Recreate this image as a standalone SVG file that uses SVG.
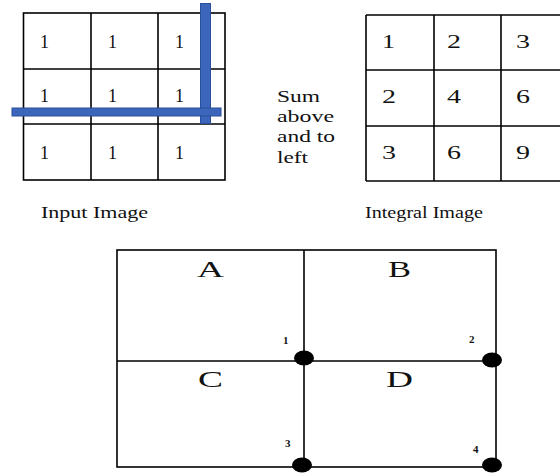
<svg xmlns="http://www.w3.org/2000/svg" width="560" height="474" viewBox="0 0 560 474">
<style>
.grid{fill:none;stroke:#000;stroke-width:1.6}
.t{font-family:"Liberation Serif","Times New Roman",serif;fill:#111}
.d{font-size:19px}
.lab{font-size:17px}
.big{font-size:24px}
.sm{font-size:11px;font-weight:bold}
.bar{fill:#3b66bb;stroke:#2a4f9a;stroke-width:1}
.dot{fill:#000}
</style>
<rect width="560" height="474" fill="#fff"/>
<g id="input-image">
<g class="grid">
<rect x="23.5" y="13" width="201.5" height="167"/>
<line x1="91" y1="13" x2="91" y2="180"/>
<line x1="158" y1="13" x2="158" y2="180"/>
<line x1="23.5" y1="69" x2="225" y2="69"/>
<line x1="23.5" y1="124" x2="225" y2="124"/>
</g>
<g class="t d">
<text x="40" y="48" textLength="9" lengthAdjust="spacingAndGlyphs">1</text>
<text x="108" y="48" textLength="9" lengthAdjust="spacingAndGlyphs">1</text>
<text x="175" y="48" textLength="9" lengthAdjust="spacingAndGlyphs">1</text>
<text x="40" y="102" textLength="9" lengthAdjust="spacingAndGlyphs">1</text>
<text x="108" y="102" textLength="9" lengthAdjust="spacingAndGlyphs">1</text>
<text x="175" y="102" textLength="9" lengthAdjust="spacingAndGlyphs">1</text>
<text x="40" y="159" textLength="9" lengthAdjust="spacingAndGlyphs">1</text>
<text x="108" y="159" textLength="9" lengthAdjust="spacingAndGlyphs">1</text>
<text x="175" y="159" textLength="9" lengthAdjust="spacingAndGlyphs">1</text>
</g>
<rect class="bar" x="200.5" y="3.5" width="10" height="120"/>
<rect class="bar" x="12" y="108" width="209" height="8"/>
<text class="t lab" x="41" y="218" textLength="107" lengthAdjust="spacingAndGlyphs">Input Image</text>
</g>
<g id="sum-label" class="t" style="font-size:16px">
<text x="277" y="102" textLength="43" lengthAdjust="spacingAndGlyphs">Sum</text>
<text x="277" y="122" textLength="57" lengthAdjust="spacingAndGlyphs">above</text>
<text x="277" y="142" textLength="58" lengthAdjust="spacingAndGlyphs">and to</text>
<text x="277" y="163" textLength="31" lengthAdjust="spacingAndGlyphs">left</text>
</g>
<g id="integral-image">
<g class="grid">
<line x1="366" y1="15" x2="566" y2="15"/>
<line x1="366" y1="70" x2="566" y2="70"/>
<line x1="366" y1="126" x2="566" y2="126"/>
<line x1="366" y1="181" x2="566" y2="181"/>
<line x1="366" y1="15" x2="366" y2="181"/>
<line x1="434" y1="15" x2="434" y2="181"/>
<line x1="501" y1="15" x2="501" y2="181"/>
</g>
<g class="t d">
<text x="382" y="48" textLength="13" lengthAdjust="spacingAndGlyphs">1</text>
<text x="447" y="48" textLength="14" lengthAdjust="spacingAndGlyphs">2</text>
<text x="516" y="48" textLength="14" lengthAdjust="spacingAndGlyphs">3</text>
<text x="382" y="103" textLength="14" lengthAdjust="spacingAndGlyphs">2</text>
<text x="447" y="103" textLength="14" lengthAdjust="spacingAndGlyphs">4</text>
<text x="516" y="103" textLength="14" lengthAdjust="spacingAndGlyphs">6</text>
<text x="382" y="159" textLength="14" lengthAdjust="spacingAndGlyphs">3</text>
<text x="447" y="159" textLength="14" lengthAdjust="spacingAndGlyphs">6</text>
<text x="516" y="159" textLength="14" lengthAdjust="spacingAndGlyphs">9</text>
</g>
<text class="t lab" x="365" y="218" textLength="118" lengthAdjust="spacingAndGlyphs">Integral Image</text>
</g>
<g id="regions">
<g class="grid">
<rect x="117" y="250" width="379" height="217"/>
<line x1="304" y1="250" x2="304" y2="467"/>
<line x1="117" y1="361" x2="496" y2="361"/>
</g>
<g class="t big">
<text x="197" y="277" textLength="27" lengthAdjust="spacingAndGlyphs">A</text>
<text x="388" y="277" textLength="23" lengthAdjust="spacingAndGlyphs">B</text>
<text x="198" y="387" textLength="25" lengthAdjust="spacingAndGlyphs">C</text>
<text x="386" y="387" textLength="27" lengthAdjust="spacingAndGlyphs">D</text>
</g>
</g>
<g id="corner-points">
<ellipse class="dot" cx="304" cy="358" rx="10" ry="7.5"/>
<ellipse class="dot" cx="492" cy="360" rx="10" ry="7.5"/>
<ellipse class="dot" cx="302" cy="465" rx="10" ry="7.5"/>
<ellipse class="dot" cx="492" cy="465" rx="10" ry="7.5"/>
<g class="t sm">
<text x="283" y="344">1</text>
<text x="469" y="343">2</text>
<text x="285" y="447">3</text>
<text x="473" y="453">4</text>
</g>
</g>
</svg>
